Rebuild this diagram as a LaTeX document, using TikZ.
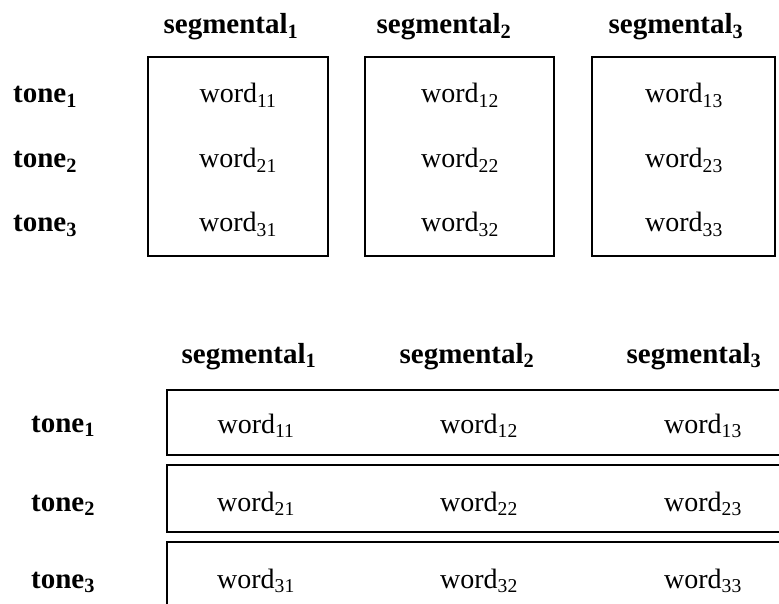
\documentclass[tikz,border=0pt]{standalone}
\usepackage{fontspec}
\setmainfont{Liberation Serif}
\begin{document}
\begin{tikzpicture}[x=1pt,y=-1pt,
  every node/.style={font=\fontsize{28}{33}\selectfont},
  hdr/.style={anchor=base,font=\fontsize{29}{34}\selectfont\bfseries},
  wrd/.style={anchor=base},
  cell/.style={draw,line width=2.6pt,inner sep=0pt,minimum width=#1},
  tallcell/.style={cell=#1,minimum height=199pt},
  rowcell/.style={cell=633pt}]
\useasboundingbox (0,0) rectangle (779,604);
\clip (0,0) rectangle (779,604);
% ---------- top diagram ----------
\node[hdr] (ts1) at (231,34) {segmental\textsubscript{1}};
\node[hdr] (ts2) at (444,34) {segmental\textsubscript{2}};
\node[hdr] (ts3) at (676,34) {segmental\textsubscript{3}};
\node[hdr] (tt1) at (45,103) {tone\textsubscript{1}};
\node[hdr] (tt2) at (45,168) {tone\textsubscript{2}};
\node[hdr] (tt3) at (45,232) {tone\textsubscript{3}};
\node[tallcell=180pt] (tb1) at (238,156.5) {};
\node[tallcell=189pt] (tb2) at (459.5,156.5) {};
\node[tallcell=183pt] (tb3) at (683.5,156.5) {};
\node[wrd] (tw11) at (238,103) {word\textsubscript{11}};
\node[wrd] (tw21) at (238,168) {word\textsubscript{21}};
\node[wrd] (tw31) at (238,232) {word\textsubscript{31}};
\node[wrd] (tw12) at (460,103) {word\textsubscript{12}};
\node[wrd] (tw22) at (460,168) {word\textsubscript{22}};
\node[wrd] (tw32) at (460,232) {word\textsubscript{32}};
\node[wrd] (tw13) at (684,103) {word\textsubscript{13}};
\node[wrd] (tw23) at (684,168) {word\textsubscript{23}};
\node[wrd] (tw33) at (684,232) {word\textsubscript{33}};
% ---------- bottom diagram ----------
\node[hdr] (bs1) at (249,363) {segmental\textsubscript{1}};
\node[hdr] (bs2) at (467,363) {segmental\textsubscript{2}};
\node[hdr] (bs3) at (694,363) {segmental\textsubscript{3}};
\node[hdr] (bt1) at (63,432) {tone\textsubscript{1}};
\node[hdr] (bt2) at (63,511) {tone\textsubscript{2}};
\node[hdr] (bt3) at (63,588) {tone\textsubscript{3}};
\node[rowcell,minimum height=65pt] (bb1) at (483.5,422.5) {};
\node[rowcell,minimum height=67pt] (bb2) at (483.5,498.5) {};
\node[rowcell,minimum height=67pt] (bb3) at (483.5,575.5) {};
\node[wrd] (bw11) at (256,433) {word\textsubscript{11}};
\node[wrd] (bw12) at (479,433) {word\textsubscript{12}};
\node[wrd] (bw13) at (703,433) {word\textsubscript{13}};
\node[wrd] (bw21) at (256,511) {word\textsubscript{21}};
\node[wrd] (bw22) at (479,511) {word\textsubscript{22}};
\node[wrd] (bw23) at (703,511) {word\textsubscript{23}};
\node[wrd] (bw31) at (256,588) {word\textsubscript{31}};
\node[wrd] (bw32) at (479,588) {word\textsubscript{32}};
\node[wrd] (bw33) at (703,588) {word\textsubscript{33}};
\end{tikzpicture}
\end{document}
